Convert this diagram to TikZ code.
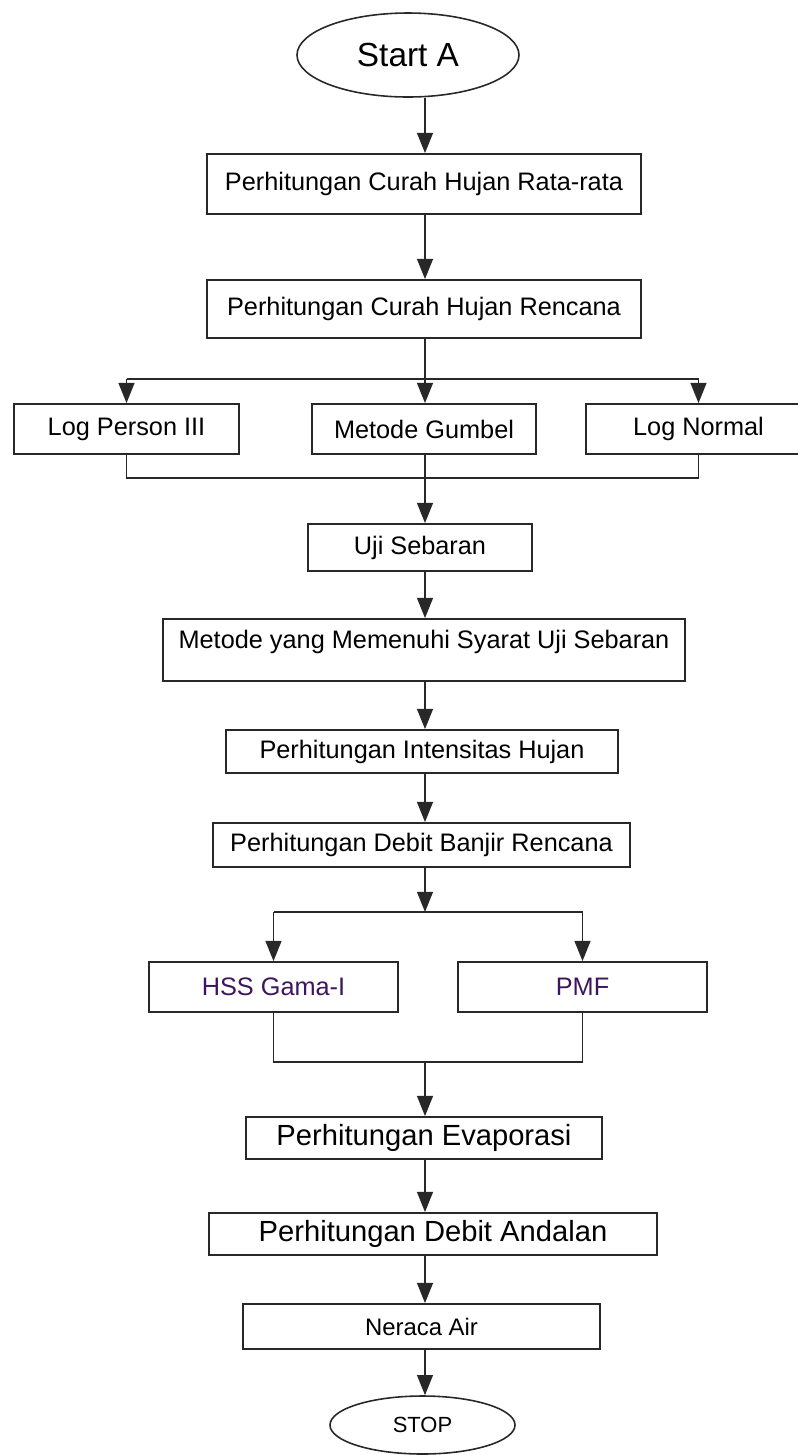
\documentclass[tikz,border=0pt]{standalone}
\usepackage{fontspec}
\setmainfont{Liberation Sans}
\usetikzlibrary{shapes.geometric,arrows.meta}
\definecolor{ln}{RGB}{40,40,40}
\definecolor{pmfc}{RGB}{62,22,92}
\tikzset{
  sz/.style 2 args={minimum width=#1*0.02cm, minimum height=#2*0.02cm},
  box/.style={draw=ln, line width=1pt, rectangle, inner sep=0pt, fill=white,
              font=\fontsize{14.4pt}{17pt}\selectfont},
  thin/.style={draw=ln, line width=1pt, rectangle, inner sep=0pt, fill=white,
              font=\fontsize{16.6pt}{19pt}\selectfont},
  oval/.style={draw=ln, line width=0.9pt, ellipse, inner sep=0pt},
  conn/.style={draw=ln, line width=1pt},
  arr/.style={conn, -{Triangle[length=11.5pt, width=9pt]}},
}
\begin{document}
\begin{tikzpicture}[x=0.02cm, y=-0.02cm]
\useasboundingbox[fill=white] (0,0) rectangle (798,1455);
\coordinate (X) at (425,0);
\coordinate (br) at (0,379);
\coordinate (j1) at (0,478);
\coordinate (j2) at (0,912);
\coordinate (j3) at (0,1062);

\node[oval, sz={222}{84}, font=\fontsize{19pt}{22pt}\selectfont] (start) at (408,55) {Start A};
\node[box, sz={434}{60}] (b1) at (424,184) {Perhitungan Curah Hujan Rata-rata};
\node[box, sz={434}{58}] (b2) at (424,309) {Perhitungan Curah Hujan Rencana};
\node[box, sz={225}{50}] (lp) at (126.5,429) {Log Person III};
\node[box, sz={224}{50}] (gb) at (424,429) {Metode Gumbel};
\node[box, sz={225}{50}] (lnm) at (698.5,429) {Log Normal};
\node[box, sz={224}{47}] (uji) at (420,547.5) {Uji Sebaran};
\node[box, sz={522}{62}, text height=10pt, text depth=12pt] (mtd) at (424,650) {Metode yang Memenuhi Syarat Uji Sebaran};
\node[box, sz={392}{43}] (ints) at (422,751.5) {Perhitungan Intensitas Hujan};
\node[box, sz={417}{44}] (bjr) at (421.5,845) {Perhitungan Debit Banjir Rencana};
\node[box, sz={249}{50}, text=pmfc] (hss) at (273.5,987) {HSS Gama-I};
\node[box, sz={249}{50}, text=pmfc] (pmf) at (582.5,987) {PMF};
\node[thin, sz={356}{42}] (evp) at (424,1138) {Perhitungan Evaporasi};
\node[thin, sz={448}{42}] (adl) at (433,1234) {Perhitungan Debit Andalan};
\node[box, sz={357}{45}, font=\fontsize{13.6pt}{16pt}\selectfont] (ner) at (421.5,1326.5) {Neraca Air};
\node[oval, sz={185}{58}, font=\fontsize{12.5pt}{15pt}\selectfont] (stop) at (422.5,1425) {STOP};

% main spine
\draw[arr] (start.south -| X) -- (b1.north -| X);
\draw[arr] (b1.south -| X) -- (b2.north -| X);
\draw[arr] (b2.south -| X) -- (gb.north -| X);
% branch to three methods
\draw[conn] (lp.north |- br) -- (lnm.north |- br);
\draw[arr] (lp.north |- br) -- (lp.north);
\draw[arr] (lnm.north |- br) -- (lnm.north);
% join of three methods
\draw[conn] (lp.south) -- (lp.south |- j1) -- (lnm.south |- j1) -- (lnm.south);
\draw[arr] (gb.south -| X) -- (uji.north -| X);
\draw[arr] (uji.south -| X) -- (mtd.north -| X);
\draw[arr] (mtd.south -| X) -- (ints.north -| X);
\draw[arr] (ints.south -| X) -- (bjr.north -| X);
% branch to HSS / PMF
\draw[arr] (bjr.south -| X) -- (j2 -| X);
\draw[conn] (hss.north |- j2) -- (pmf.north |- j2);
\draw[arr] (hss.north |- j2) -- (hss.north);
\draw[arr] (pmf.north |- j2) -- (pmf.north);
% join HSS / PMF
\draw[conn] (hss.south) -- (hss.south |- j3) -- (pmf.south |- j3) -- (pmf.south);
\draw[arr] (j3 -| X) -- (evp.north -| X);
\draw[arr] (evp.south -| X) -- (adl.north -| X);
\draw[arr] (adl.south -| X) -- (ner.north -| X);
\draw[arr] (ner.south -| X) -- (stop.north -| X);
\end{tikzpicture}
\end{document}
